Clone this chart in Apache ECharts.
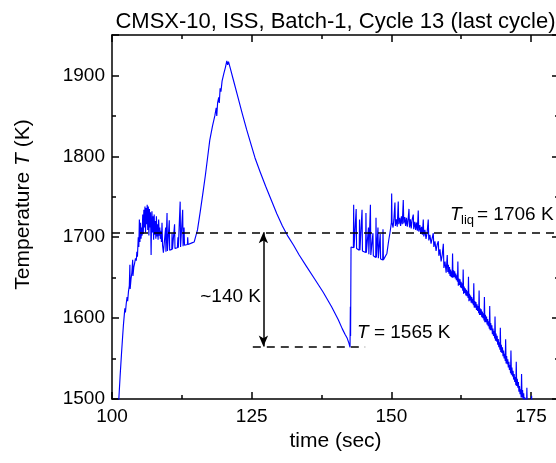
<!DOCTYPE html>
<html><head><meta charset="utf-8">
<script src="https://cdn.jsdelivr.net/npm/echarts@6/dist/echarts.min.js"></script>
<style>html,body{margin:0;padding:0;background:#fff}#c{width:556px;height:463px}</style>
</head><body><div id="c"></div>
<script>
// ---- data (time in s, temperature in K) ----
const xTicks = [100, 125, 150, 175];
const yTicks = [1500, 1600, 1700, 1800, 1900];
const T_LIQ = 1706;
const T_MIN = 1565;

const rampUp = [[101.2,1497],[101.45,1528],[101.7,1556],[101.9,1577],[102.05,1592],[102.2,1604],[102.3,1612],[102.4,1607],[102.55,1618],[102.7,1626],[102.8,1621],[102.95,1633],[103.1,1640],[103.2,1666],[103.25,1636],[103.4,1648],[103.55,1656],[103.7,1672],[103.75,1652],[103.9,1663],[104.05,1668],[104.2,1674],[104.35,1671],[104.45,1682],[104.55,1676]];

const plateau1 = [[104.7,1700],[104.8,1688],[104.9,1722],[105.0,1694],[105.1,1718],[105.2,1698],[105.3,1712],[105.4,1702],[105.5,1728],[105.6,1704],[105.7,1734],[105.8,1712],[105.9,1738],[106.0,1706],[106.1,1736],[106.2,1716],[106.3,1740],[106.4,1709],[106.5,1738],[106.6,1702],[106.7,1735],[106.8,1712],[106.9,1731],[107.0,1678],[107.05,1704],[107.15,1732],[107.25,1706],[107.35,1726],[107.45,1697],[107.55,1728],[107.65,1703],[107.75,1720],[107.85,1698],[107.95,1726],[108.05,1701],[108.15,1716],[108.25,1697],[108.35,1722],[108.45,1702],[108.55,1712],[108.65,1698],[108.75,1708],[108.85,1694],[108.95,1718],[109.05,1690],[109.2,1681],
[109.5,1682],[109.6,1712],[109.65,1682],[109.8,1683],[109.85,1730],[109.92,1683],[110.2,1684],[110.25,1721],[110.32,1684],[110.7,1685],[110.75,1705],[110.82,1685],[111.15,1686],[111.2,1716],[111.27,1686],[111.7,1687],[111.8,1700],[111.87,1687],[112.15,1688],[112.2,1744],[112.27,1688],[112.6,1689],[112.65,1734],[112.72,1689],[112.85,1689],[112.9,1712],[112.97,1690],[113.5,1691],[113.55,1700],[113.62,1691],[114.3,1693],[114.7,1694],[115.0,1696]];

const heating = [[115.3,1709],[115.8,1732],[116.3,1756],[116.7,1776],[117.1,1798],[117.5,1820],[118.0,1838],[118.4,1850],[118.65,1860],[118.75,1850],[118.9,1866],[119.1,1873],[119.2,1866],[119.35,1884],[119.5,1880],[119.7,1893],[120.0,1902],[120.3,1910],[120.55,1918],[120.7,1913],[120.85,1917]];

const cooling = [[121.2,1908],[121.7,1895],[122.5,1874],[123.3,1853],[124.1,1833],[125.0,1812],[125.6,1798],[126.5,1781],[127.5,1763],[128.5,1746],[129.5,1729],[130.5,1714],[131.5,1701],[132.5,1690],[133.5,1678],[134.8,1664],[136.3,1648],[137.8,1632],[139.3,1614],[140.5,1598],[141.2,1587],[141.7,1580],[142.1,1575],[142.4,1569],[142.6,1564]];

const recalescence = [[142.62,1563],[142.66,1614],[142.7,1578],[142.78,1688],[142.85,1689],[143.0,1688]];

const plateau2 = [[143.2,1687],[143.25,1740],[143.32,1687],[143.65,1686],[143.7,1735],[143.77,1686],[144.25,1684],[144.3,1722],[144.37,1684],[144.7,1683],[144.75,1734],[144.82,1683],[145.4,1681],[145.45,1730],[145.52,1681],[145.85,1679],[145.9,1712],[145.97,1679],[146.2,1678],[146.25,1740],[146.32,1678],[146.65,1677],[146.7,1705],[146.77,1677],[147.2,1675],[147.25,1724],[147.32,1675],[147.55,1674],[147.6,1712],[147.67,1674],[147.95,1673],[148.0,1704],[148.07,1673],[148.45,1672],[148.5,1710],[148.57,1672],[148.9,1671],[149.2,1680],[149.5,1695],[149.8,1708],[150.0,1718]];

const plateau3 = [[150.05,1754],[150.12,1718],[150.3,1712],[150.45,1722],[150.64,1743],[150.72,1714],[150.9,1722],[151.05,1713],[151.23,1744],[151.32,1716],[151.5,1724],[151.65,1714],[151.8,1726],[151.95,1716],[152.13,1746],[152.22,1717],[152.4,1725],[152.55,1714],[152.7,1724],[152.85,1713],[153.0,1722],[153.15,1735],[153.25,1712],[153.4,1722],[153.55,1711],[153.7,1721],[153.92,1728],[154.0,1710],[154.2,1719],[154.35,1709],[154.5,1718],[154.65,1708],[154.81,1733],[154.9,1707],[155.1,1715],[155.25,1704],[155.4,1713],[155.55,1703],[155.71,1722],[155.8,1701],[156.0,1709],[156.2,1698],[156.4,1706],[156.6,1722],[156.7,1696],[156.9,1703],[157.1,1692],[157.3,1699],[157.5,1705],[157.6,1688],[157.8,1695],[158.0,1683],[158.2,1691],[158.4,1695],[158.5,1677],[158.7,1685],[158.9,1670],[159.1,1678],[159.3,1692],[159.4,1662],[159.6,1670],[159.8,1656],[160.0,1678],[160.1,1657],[160.2,1666],[160.3,1655],[160.4,1663],[160.5,1652],[160.6,1660],[160.7,1651],[160.8,1658],[160.88,1650]];

const decline = [
[160.95,1680],[161.03,1650],[161.13,1659],[161.23,1651],[161.33,1658],[161.43,1649],[161.53,1655],[161.63,1647],[161.73,1653],[161.83,1645],
[161.9,1670],[161.98,1640],[162.08,1649],[162.18,1641],[162.28,1648],[162.38,1638],[162.48,1645],[162.58,1637],[162.68,1643],[162.78,1634],
[162.85,1660],[162.93,1630],[163.03,1639],[163.13,1631],[163.23,1637],[163.33,1628],[163.43,1635],[163.53,1627],[163.63,1633],[163.73,1625],
[163.8,1651],[163.88,1621],[163.98,1630],[164.08,1622],[164.18,1628],[164.28,1619],[164.38,1626],[164.48,1618],[164.58,1624],[164.68,1616],
[164.75,1643],[164.83,1613],[164.93,1621],[165.03,1613],[165.13,1620],[165.23,1610],[165.33,1617],[165.43,1609],[165.53,1615],[165.63,1606],
[165.7,1634],[165.78,1604],[165.88,1612],[165.98,1604],[166.08,1611],[166.18,1601],[166.28,1608],[166.38,1600],[166.48,1606],[166.58,1597],
[166.65,1626],[166.73,1595],[166.83,1604],[166.93,1595],[167.03,1602],[167.13,1592],[167.23,1599],[167.33,1590],[167.43,1596],[167.53,1587],
[167.6,1615],[167.68,1585],[167.78,1594],[167.88,1585],[167.98,1591],[168.08,1580],[168.18,1587],[168.28,1578],[168.38,1584],[168.48,1575],
[168.55,1602],[168.63,1572],[168.73,1581],[168.83,1571],[168.93,1578],[169.03,1567],[169.13,1574],[169.23,1564],[169.33,1570],[169.43,1561],
[169.5,1588],[169.58,1558],[169.68,1567],[169.78,1557],[169.88,1564],[169.98,1553],[170.08,1560],[170.18,1550],[170.28,1556],[170.38,1547],
[170.45,1574],[170.53,1544],[170.63,1553],[170.73,1543],[170.83,1549],[170.93,1539],[171.03,1546],[171.13,1536],[171.23,1542],[171.33,1532],
[171.4,1560],[171.48,1530],[171.58,1539],[171.68,1528],[171.78,1535],[171.88,1524],[171.98,1531],[172.08,1521],[172.18,1527],[172.28,1517],
[172.35,1546],[172.43,1516],[172.53,1525],[172.63,1514],[172.73,1521],[172.83,1509],[172.93,1516],[173.03,1506],[173.13,1512],[173.23,1502],
[173.3,1531],[173.38,1502],[173.48,1511],[173.58,1500],[173.68,1507],[173.78,1495],[173.88,1502],[173.98,1492],[174.08,1498],[174.18,1488],
[174.25,1514],[174.33,1488],[174.43,1496],[174.53,1485],[174.63,1492],[174.73,1480],[174.83,1486],[174.93,1476],[175.1,1504],[175.2,1470]];

const series = [].concat(rampUp, plateau1, heating, cooling, recalescence, plateau2, plateau3, decline);

// ---- chart ----
const FONT = '"Liberation Sans", Arial, Helvetica, sans-serif';
const chart = echarts.init(document.getElementById('c'), null, {renderer: 'canvas'});
const BLK = '#000';
function xAx(pos, interval, len, line, labels) {
  return {
    type: 'value', position: pos, min: 100, max: 180, interval: interval,
    axisLine: {show: line, onZero: false, lineStyle: {color: BLK, width: 1.5}},
    axisTick: {show: true, inside: true, length: len, lineStyle: {color: BLK, width: 1.5}},
    axisLabel: labels ? {show: true, color: BLK, fontSize: 19, fontFamily: FONT, margin: 8,
      formatter: v => (xTicks.indexOf(v) >= 0 ? String(v) : '')} : {show: false},
    splitLine: {show: false}, minorTick: {show: false}
  };
}
function yAx(pos, interval, len, line, labels) {
  return {
    type: 'value', position: pos, min: 1500, max: 1950, interval: interval,
    axisLine: {show: line, onZero: false, lineStyle: {color: BLK, width: 1.5}},
    axisTick: {show: true, inside: true, length: len, lineStyle: {color: BLK, width: 1.5}},
    axisLabel: labels ? {show: true, color: BLK, fontSize: 19, fontFamily: FONT, margin: 7,
      formatter: v => (yTicks.indexOf(v) >= 0 ? String(v) : '')} : {show: false},
    splitLine: {show: false}, minorTick: {show: false}
  };
}
const dash = {color: BLK, width: 1.6, type: [8, 6]};
const option = {
  animation: false,
  grid: {left: 112, top: 35, width: 447, height: 364, containLabel: false, outerBoundsMode: 'none'},
  xAxis: [xAx('bottom', 25, 7, true, true), xAx('bottom', 12.5, 4, false, false),
          xAx('top', 25, 7, true, false), xAx('top', 12.5, 4, false, false)],
  yAxis: [yAx('left', 100, 7, true, true), yAx('left', 50, 4, false, false),
          yAx('right', 100, 7, true, false), yAx('right', 50, 4, false, false)],
  series: [{
    type: 'line', data: series, xAxisIndex: 0, yAxisIndex: 0,
    showSymbol: false, symbol: 'none', clip: true, sampling: false,
    lineStyle: {color: '#0000ff', width: 1.15},
    markLine: {
      silent: true, animation: false, symbol: ['none', 'none'], label: {show: false},
      data: [
        [{coord: [100, T_LIQ], lineStyle: dash}, {coord: [180, T_LIQ]}],
        [{coord: [125.2, T_MIN], lineStyle: dash}, {coord: [145.3, T_MIN]}],
        [{coord: [127.1, T_LIQ], symbol: 'arrow', symbolSize: [7, 11], lineStyle: {color: BLK, width: 1.5, type: 'solid'}},
         {coord: [127.1, T_MIN], symbol: 'arrow', symbolSize: [7, 11]}]
      ]
    }
  }],
  graphic: [
    {type: 'text', x: 335.5, y: 22, style: {text: 'CMSX-10, ISS, Batch-1, Cycle 13 (last cycle)', fill: BLK,
      fontSize: 22, fontFamily: FONT, align: 'center', verticalAlign: 'middle'}},
    {type: 'text', x: 23, y: 204.5, rotation: Math.PI / 2, style: {
      text: '{n|Temperature }{i|T}{n| (K)}', align: 'center', verticalAlign: 'middle', fill: BLK,
      rich: {n: {fontSize: 21, fontFamily: FONT, fill: BLK}, i: {fontSize: 21, fontFamily: FONT, fontStyle: 'italic', fill: BLK}}}},
    {type: 'text', x: 335.5, y: 441, style: {text: 'time (sec)', fill: BLK, fontSize: 21, fontFamily: FONT, align: 'center', verticalAlign: 'middle'}},
    {type: 'text', x: 261, y: 297, style: {text: '~140 K', fill: BLK, fontSize: 19, fontFamily: FONT, align: 'right', verticalAlign: 'middle'}},
    {type: 'text', x: 357, y: 333, style: {
      text: '{i|T}{n| = 1565 K}', align: 'left', verticalAlign: 'middle', fill: BLK,
      rich: {n: {fontSize: 19, fontFamily: FONT, fill: BLK}, i: {fontSize: 19, fontFamily: FONT, fontStyle: 'italic', fill: BLK}}}},
    {type: 'text', x: 450, y: 215, style: {text: 'T', fill: BLK, fontSize: 19, fontFamily: FONT, fontStyle: 'italic', align: 'left', verticalAlign: 'middle'}},
    {type: 'text', x: 461, y: 220, style: {text: 'liq', fill: BLK, fontSize: 13, fontFamily: FONT, align: 'left', verticalAlign: 'middle'}},
    {type: 'text', x: 477, y: 215, style: {text: '= 1706 K', fill: BLK, fontSize: 19, fontFamily: FONT, align: 'left', verticalAlign: 'middle'}}
  ]
};
chart.setOption(option);
</script>
</body></html>
